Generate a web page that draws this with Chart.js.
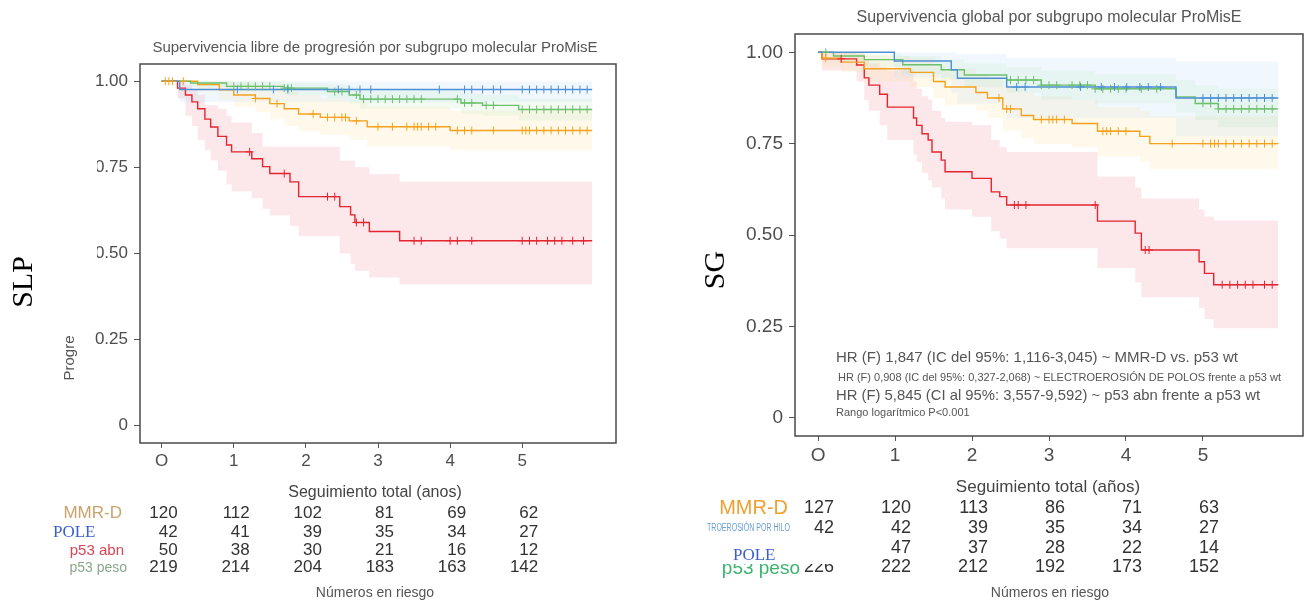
<!DOCTYPE html>
<html>
<head>
<meta charset="utf-8">
<script src="https://cdn.jsdelivr.net/npm/chart.js@4.4.0/dist/chart.umd.min.js"></script>
<style>
  html, body { margin: 0; padding: 0; background: #fff; }
  .panel { position: absolute; top: 0; width: 657px; height: 605px; }
  #left { left: 0; }
  #right { left: 657px; }
</style>
</head>
<body>
<div class="panel" id="left"><canvas id="slp-chart" width="657" height="605"></canvas></div>
<div class="panel" id="right"><canvas id="sg-chart" width="657" height="605"></canvas></div>
<script>
// axes
const xTicks = [0, 1, 2, 3, 4, 5];
const xTickLabels = ['O', '1', '2', '3', '4', '5'];
const yTicks = [0, 0.25, 0.5, 0.75, 1];
const yTickLabels = ['0', '0.25', '0.50', '0.75', '1.00'];

// SLP (left) - step times, survival, upper / lower CI
const slpEnd = 5.97;
const slpMmrT = [0, 0.5, 0.8, 1.0, 1.3, 1.5, 1.7, 1.9, 2.2, 2.6, 2.85, 4.0];
const slpMmrS = [1, 0.99, 0.975, 0.96, 0.95, 0.935, 0.92, 0.905, 0.895, 0.885, 0.868, 0.857];
const slpMmrHi = [1, 1, 1, 0.995, 0.99, 0.98, 0.97, 0.96, 0.95, 0.94, 0.925, 0.915];
const slpMmrLo = [1, 0.97, 0.945, 0.925, 0.91, 0.89, 0.87, 0.855, 0.845, 0.83, 0.81, 0.80];
const slpMmrCens = [0.05, 0.1, 0.15, 0.3, 1.3, 1.6, 2.1, 2.3, 2.4, 2.5, 2.55, 2.7, 3.0, 3.2, 3.4, 3.5, 3.55, 3.6, 3.7, 3.8, 4.1, 4.2, 4.3, 4.6, 5.0, 5.05, 5.1, 5.2, 5.3, 5.4, 5.5, 5.6, 5.7, 5.8, 5.9];

const slpPoleT = [0, 0.25];
const slpPoleS = [1, 0.976];
const slpPoleHi = [1, 1];
const slpPoleLo = [1, 0.94];
const slpPoleCens = [1.05, 1.55, 1.75, 2.45, 2.6, 2.75, 2.9, 3.85, 4.2, 4.3, 4.45, 4.6, 4.7, 5.0, 5.1, 5.2, 5.3, 5.4, 5.5, 5.6, 5.7, 5.8, 5.9];

const slpAbnT = [0, 0.22, 0.33, 0.42, 0.5, 0.6, 0.68, 0.78, 0.9, 0.97, 1.25, 1.4, 1.5, 1.78, 1.9, 2.47, 2.62, 2.68, 2.88, 3.3];
const slpAbnS = [1, 0.98, 0.96, 0.94, 0.92, 0.89, 0.867, 0.84, 0.815, 0.795, 0.775, 0.752, 0.732, 0.708, 0.665, 0.636, 0.612, 0.59, 0.564, 0.537];
const slpAbnHi = [1, 1, 0.99, 0.975, 0.96, 0.93, 0.93, 0.92, 0.9, 0.88, 0.85, 0.81, 0.81, 0.81, 0.81, 0.77, 0.77, 0.75, 0.73, 0.708];
const slpAbnLo = [1, 0.95, 0.9, 0.87, 0.83, 0.8, 0.77, 0.74, 0.7, 0.68, 0.66, 0.63, 0.61, 0.58, 0.55, 0.5, 0.47, 0.45, 0.43, 0.41];
const slpAbnCens = [1.22, 1.7, 2.3, 2.4, 2.7, 2.8, 3.5, 3.6, 4.0, 4.1, 4.3, 5.0, 5.1, 5.2, 5.35, 5.45, 5.55, 5.7, 5.85];

const slpWtT = [0, 0.4, 0.9, 1.7, 2.3, 2.6, 2.75, 4.15, 4.45, 4.95];
const slpWtS = [1, 0.995, 0.985, 0.98, 0.97, 0.96, 0.948, 0.937, 0.93, 0.918];
const slpWtHi = [1, 1, 1, 0.995, 0.99, 0.985, 0.975, 0.965, 0.96, 0.95];
const slpWtLo = [1, 0.985, 0.97, 0.96, 0.95, 0.935, 0.92, 0.905, 0.9, 0.885];
const slpWtCens = [1.0, 1.1, 1.2, 1.3, 1.4, 1.5, 1.7, 1.75, 1.8, 2.4, 2.5, 2.7, 2.8, 2.9, 3.0, 3.1, 3.2, 3.3, 3.4, 3.5, 3.6, 4.1, 4.2, 4.3, 4.5, 4.6, 5.0, 5.1, 5.2, 5.3, 5.4, 5.5, 5.6, 5.7, 5.8, 5.9];

const slpRiskMmr = [120, 112, 102, 81, 69, 62];
const slpRiskPole = [42, 41, 39, 35, 34, 27];
const slpRiskAbn = [50, 38, 30, 21, 16, 12];
const slpRiskWt = [219, 214, 204, 183, 163, 142];

// SG (right)
const sgEnd = 5.98;
const sgMmrT = [0, 0.05, 0.3, 0.6, 1.2, 1.5, 1.65, 2.05, 2.2, 2.4, 2.64, 2.8, 3.3, 3.63, 4.18, 4.31];
const sgMmrS = [1, 0.984, 0.973, 0.955, 0.945, 0.92, 0.905, 0.89, 0.875, 0.845, 0.827, 0.816, 0.805, 0.784, 0.77, 0.75];
const sgMmrHi = [1, 1, 1, 0.99, 0.985, 0.965, 0.955, 0.94, 0.93, 0.905, 0.89, 0.88, 0.87, 0.85, 0.84, 0.825];
const sgMmrLo = [1, 0.96, 0.945, 0.92, 0.905, 0.875, 0.855, 0.84, 0.82, 0.785, 0.765, 0.75, 0.74, 0.715, 0.7, 0.68];
const sgMmrCens = [0.1, 2.35, 2.45, 2.5, 2.9, 3.0, 3.05, 3.1, 3.2, 3.7, 3.75, 3.8, 3.9, 4.0, 4.6, 5.0, 5.1, 5.15, 5.2, 5.3, 5.4, 5.5, 5.6, 5.7, 5.8, 5.9];

const sgPoleT = [0, 0.99, 1.73, 1.81, 2.45, 4.65];
const sgPoleS = [1, 0.976, 0.952, 0.929, 0.905, 0.875];
const sgPoleHi = [1, 1, 1, 0.995, 0.985, 0.975];
const sgPoleLo = [1, 0.93, 0.89, 0.86, 0.82, 0.77];
const sgPoleCens = [2.58, 2.69, 3.41, 3.68, 3.85, 4.01, 4.18, 4.29, 4.45, 5.0, 5.1, 5.2, 5.3, 5.4, 5.5, 5.6, 5.7, 5.8, 5.9];

const sgAbnT = [0, 0.05, 0.5, 0.6, 0.66, 0.8, 0.9, 1.24, 1.28, 1.35, 1.43, 1.48, 1.6, 1.65, 2.0, 2.25, 2.36, 2.45, 3.63, 4.12, 4.2, 4.95, 5.02, 5.14];
const sgAbnS = [1, 0.982, 0.965, 0.93, 0.91, 0.885, 0.85, 0.82, 0.8, 0.777, 0.76, 0.727, 0.705, 0.673, 0.655, 0.618, 0.605, 0.582, 0.538, 0.505, 0.459, 0.427, 0.395, 0.364];
const sgAbnHi = [1, 1, 0.995, 0.98, 0.97, 0.96, 0.95, 0.92, 0.9, 0.88, 0.87, 0.84, 0.82, 0.81, 0.8, 0.76, 0.74, 0.727, 0.66, 0.63, 0.6, 0.57, 0.55, 0.54];
const sgAbnLo = [1, 0.95, 0.92, 0.87, 0.84, 0.8, 0.76, 0.72, 0.7, 0.67, 0.65, 0.63, 0.6, 0.57, 0.55, 0.51, 0.49, 0.464, 0.41, 0.37, 0.33, 0.3, 0.27, 0.245];
const sgAbnCens = [0.3, 2.55, 2.6, 2.7, 3.6, 4.25, 4.3, 5.25, 5.35, 5.45, 5.55, 5.65, 5.8, 5.9];

const sgWtT = [0, 0.2, 0.6, 1.1, 1.6, 1.9, 2.45, 2.9, 3.6, 4.65, 4.9, 5.2];
const sgWtS = [1, 0.99, 0.98, 0.966, 0.952, 0.938, 0.924, 0.91, 0.9, 0.878, 0.86, 0.845];
const sgWtHi = [1, 1, 0.995, 0.99, 0.98, 0.97, 0.96, 0.95, 0.94, 0.925, 0.91, 0.9];
const sgWtLo = [1, 0.975, 0.96, 0.94, 0.925, 0.905, 0.89, 0.87, 0.86, 0.835, 0.815, 0.795];
const sgWtCens = [0.1, 2.5, 2.6, 2.7, 2.8, 2.9, 3.0, 3.1, 3.3, 3.4, 3.5, 3.6, 3.7, 3.8, 3.9, 4.0, 4.2, 4.4, 5.0, 5.1, 5.2, 5.3, 5.4, 5.5, 5.6, 5.7, 5.8, 5.9];

const sgRiskMmr = [127, 120, 113, 86, 71, 63];
const sgRiskPole = [42, 42, 39, 35, 34, 27];
const sgRiskAbn = [57, 47, 37, 28, 22, 14];
const sgRiskWt = [226, 222, 212, 192, 173, 152];

const hrLines = [
    'HR (F) 1,847 (IC del 95%: 1,116-3,045) ~ MMR-D vs. p53 wt',
    'HR (F) 0,908 (IC del 95%: 0,327-2,068) ~ ELECTROEROSIÓN DE POLOS frente a p53 wt',
    'HR (F) 5,845 (CI al 95%: 3,557-9,592) ~ p53 abn frente a p53 wt',
    'Rango logarítmico P<0.001'
];

const COLORS = { mmr: '#f4a21e', pole: '#4f8fd6', abn: '#e3262f', wt: '#6cc06c' };
const BANDS = { mmr: 'rgba(252,225,150,0.20)', pole: 'rgba(180,215,245,0.18)', abn: 'rgba(245,175,185,0.30)', wt: 'rgba(175,222,175,0.16)' };
const SANS = '"Liberation Sans", Arial, sans-serif';
const SERIF = '"Liberation Serif", "Times New Roman", serif';

const makeStep = (ts, vs, end) => ts.map((t, i) => ({ x: t, y: vs[i] })).concat([{ x: end, y: vs[vs.length - 1] }]);
const survAt = (ts, vs, t) => {
    let v = vs[0];
    ts.forEach((tt, i) => { if (tt <= t) v = vs[i]; });
    return v;
};

const buildDatasets = (curves, end) => {
    const sets = [];
    curves.forEach(c => {
        const hiIndex = sets.length;
        sets.push({ data: makeStep(c.t, c.hi, end), borderColor: 'rgba(0,0,0,0)', borderWidth: 0, pointRadius: 0, stepped: 'before', fill: false, order: 3 });
        sets.push({ data: makeStep(c.t, c.lo, end), borderColor: 'rgba(0,0,0,0)', borderWidth: 0, pointRadius: 0, stepped: 'before', fill: { target: hiIndex }, backgroundColor: c.band, order: 3 });
    });
    curves.forEach(c => {
        sets.push({ data: makeStep(c.t, c.s, end), borderColor: c.color, borderWidth: 1.4, pointRadius: 0, stepped: 'before', fill: false, order: 2 });
        sets.push({
            data: c.cens.map(t => ({ x: t, y: survAt(c.t, c.s, t) })),
            showLine: false, pointStyle: 'cross', pointRadius: 4, pointBorderWidth: 1,
            borderColor: c.color, pointBorderColor: c.color, order: 1
        });
    });
    return sets;
};

const drawText = (ctx, text, x, y, o) => {
    ctx.save();
    ctx.font = o.font;
    ctx.fillStyle = o.color;
    ctx.textAlign = o.align || 'left';
    ctx.textBaseline = 'middle';
    ctx.translate(x, y);
    if (o.rotate) ctx.rotate(-Math.PI / 2);
    if (o.maxWidth) ctx.fillText(text, 0, 0, o.maxWidth);
    else ctx.fillText(text, 0, 0);
    ctx.restore();
};

const makeKM = (canvasId, curves, end, pad, yFont, xFont, overlay) => {
    const tickFont = (size) => ({ family: SANS, size: size });
    return new Chart(document.getElementById(canvasId), {
        type: 'line',
        data: { datasets: buildDatasets(curves, end) },
        options: {
            responsive: false,
            animation: false,
            devicePixelRatio: 1,
            layout: { padding: pad },
            plugins: { legend: { display: false }, tooltip: { enabled: false } },
            scales: {
                x: {
                    type: 'linear', min: -0.3, max: 6.3,
                    afterBuildTicks: s => { s.ticks = xTicks.map(v => ({ value: v })); },
                    afterFit: s => { s.height = 32; },
                    ticks: { callback: v => xTickLabels[xTicks.indexOf(v)], font: tickFont(xFont), color: '#4d4d4d', padding: 3, maxRotation: 0 },
                    grid: { drawOnChartArea: false, drawTicks: true, tickLength: 5, color: '#555' },
                    border: { display: false }
                },
                y: {
                    type: 'linear', min: -0.05, max: 1.05,
                    afterBuildTicks: s => { s.ticks = yTicks.map(v => ({ value: v })); },
                    afterFit: s => { s.width = 60; },
                    ticks: { callback: v => yTickLabels[yTicks.indexOf(v)], font: tickFont(yFont), color: '#4d4d4d', padding: 6 },
                    grid: { drawOnChartArea: false, drawTicks: true, tickLength: 6, color: '#555' },
                    border: { display: false }
                }
            }
        },
        plugins: [{
            id: 'frameAndText',
            afterDraw: (chart) => {
                const { ctx, chartArea: a } = chart;
                ctx.save();
                ctx.strokeStyle = '#4a4a4a';
                ctx.lineWidth = 1.5;
                ctx.strokeRect(a.left, a.top, a.right - a.left, a.bottom - a.top);
                ctx.restore();
                overlay(chart, ctx);
            }
        }]
    });
};

const drawRisk = (chart, ctx, rows, ys, size) => {
    const xs = chart.scales.x;
    rows.forEach((row, r) => {
        row.forEach((n, i) => {
            drawText(ctx, String(n), xs.getPixelForValue(xTicks[i]) + 16, ys[r], { font: `${size}px ${SANS}`, color: '#333', align: 'right' });
        });
    });
};

// left chart
makeKM('slp-chart', [
    { t: slpPoleT, s: slpPoleS, hi: slpPoleHi, lo: slpPoleLo, cens: slpPoleCens, color: COLORS.pole, band: BANDS.pole },
    { t: slpWtT, s: slpWtS, hi: slpWtHi, lo: slpWtLo, cens: slpWtCens, color: COLORS.wt, band: BANDS.wt },
    { t: slpMmrT, s: slpMmrS, hi: slpMmrHi, lo: slpMmrLo, cens: slpMmrCens, color: COLORS.mmr, band: BANDS.mmr },
    { t: slpAbnT, s: slpAbnS, hi: slpAbnHi, lo: slpAbnLo, cens: slpAbnCens, color: COLORS.abn, band: BANDS.abn }
], slpEnd, { left: 80, top: 64, right: 41, bottom: 130 }, 17, 17, (chart, ctx) => {
    // cover of the cut tick labels
    ctx.fillStyle = '#fff';
    ctx.fillRect(60, 150, 37, 115);
    drawText(ctx, 'Supervivencia libre de progresión por subgrupo molecular ProMisE', 375, 48, { font: `15px ${SANS}`, color: '#555', align: 'center', maxWidth: 484 });
    drawText(ctx, 'SLP', 24, 282, { font: `30px ${SERIF}`, color: '#000', align: 'center', rotate: true });
    drawText(ctx, 'Progre', 70, 358, { font: `15px ${SANS}`, color: '#555', align: 'center', rotate: true });
    drawText(ctx, 'Seguimiento total (anos)', 375, 493, { font: `16px ${SANS}`, color: '#444', align: 'center' });
    drawText(ctx, 'Números en riesgo', 375, 593, { font: `14px ${SANS}`, color: '#555', align: 'center' });
    drawText(ctx, 'MMR-D', 122, 513, { font: `17px ${SANS}`, color: '#c9a36b', align: 'right' });
    drawText(ctx, 'POLE', 53, 533, { font: `17px ${SERIF}`, color: '#3a5fcd' });
    drawText(ctx, 'p53 abn', 124, 551, { font: `15px ${SANS}`, color: '#dd4455', align: 'right' });
    drawText(ctx, 'p53 peso', 127, 568, { font: `14px ${SANS}`, color: '#8aa88a', align: 'right' });
    drawRisk(chart, ctx, [slpRiskMmr, slpRiskPole, slpRiskAbn, slpRiskWt], [513, 532, 550, 567], 17);
});

// right chart
makeKM('sg-chart', [
    { t: sgPoleT, s: sgPoleS, hi: sgPoleHi, lo: sgPoleLo, cens: sgPoleCens, color: COLORS.pole, band: BANDS.pole },
    { t: sgWtT, s: sgWtS, hi: sgWtHi, lo: sgWtLo, cens: sgWtCens, color: COLORS.wt, band: BANDS.wt },
    { t: sgMmrT, s: sgMmrS, hi: sgMmrHi, lo: sgMmrLo, cens: sgMmrCens, color: COLORS.mmr, band: BANDS.mmr },
    { t: sgAbnT, s: sgAbnS, hi: sgAbnHi, lo: sgAbnLo, cens: sgAbnCens, color: COLORS.abn, band: BANDS.abn }
], sgEnd, { left: 78, top: 34, right: 11, bottom: 137 }, 19, 19, (chart, ctx) => {
    drawText(ctx, 'Supervivencia global por subgrupo molecular ProMisE', 392, 18, { font: `16px ${SANS}`, color: '#555', align: 'center', maxWidth: 426 });
    drawText(ctx, 'SG', 59, 270, { font: `30px ${SERIF}`, color: '#000', align: 'center', rotate: true });
    drawText(ctx, hrLines[0], 179, 358, { font: `15px ${SANS}`, color: '#555', maxWidth: 424 });
    drawText(ctx, hrLines[1], 181, 378, { font: `11px ${SANS}`, color: '#555', maxWidth: 447 });
    drawText(ctx, hrLines[2], 179, 396, { font: `15px ${SANS}`, color: '#555', maxWidth: 424 });
    drawText(ctx, hrLines[3], 179, 413, { font: `11px ${SANS}`, color: '#555', maxWidth: 136 });
    drawText(ctx, 'Seguimiento total (años)', 391, 487, { font: `17px ${SANS}`, color: '#444', align: 'center' });
    drawText(ctx, 'Números en riesgo', 393, 593, { font: `14px ${SANS}`, color: '#555', align: 'center' });
    drawRisk(chart, ctx, [sgRiskMmr, sgRiskPole, sgRiskAbn, sgRiskWt], [508, 528, 548, 567], 18);
    drawText(ctx, 'MMR-D', 131, 508, { font: `20px ${SANS}`, color: '#f0a030', align: 'right' });
    drawText(ctx, 'p53 abn', 131, 548, { font: `18px ${SANS}`, color: '#e04050', align: 'right' });
    drawText(ctx, 'p53 peso', 143, 569, { font: `19px ${SANS}`, color: '#3cb371', align: 'right' });
    // pasted label boxes
    ctx.fillStyle = '#fff';
    ctx.fillRect(48, 519, 86, 17);
    drawText(ctx, 'TROEROSIÓN POR HILO', 50, 528, { font: `10px ${SANS}`, color: '#6a9fd0', maxWidth: 83 });
    ctx.fillStyle = '#fff';
    ctx.fillRect(48, 540, 132, 24);
    drawText(ctx, 'POLE', 76, 556, { font: `17px ${SERIF}`, color: '#3a5fcd' });
});
</script>
</body>
</html>
